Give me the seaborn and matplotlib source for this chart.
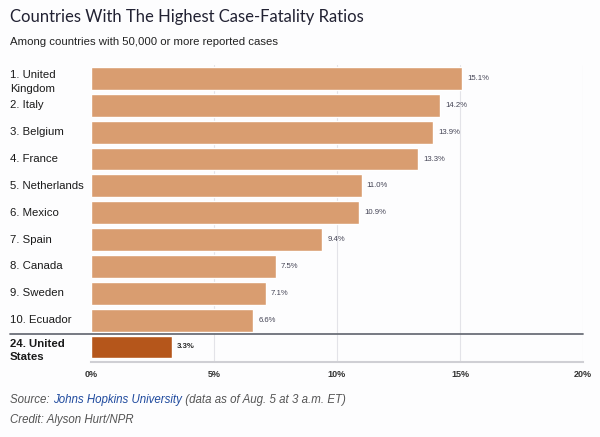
import matplotlib
matplotlib.use("Agg")
import matplotlib.pyplot as plt
import seaborn as sns
import pandas as pd

countries = ["1. United\nKingdom", "2. Italy", "3. Belgium", "4. France", "5. Netherlands",
             "6. Mexico", "7. Spain", "8. Canada", "9. Sweden", "10. Ecuador",
             "24. United\nStates"]
ratios = [15.1, 14.2, 13.9, 13.3, 11.0, 10.9, 9.4, 7.5, 7.1, 6.6, 3.3]
value_labels = ["15.1%", "14.2%", "13.9%", "13.3%", "11.0%", "10.9%", "9.4%", "7.5%",
                "7.1%", "6.6%", "3.3%"]
x_ticks = [0, 5, 10, 15, 20]

df = pd.DataFrame({"country": countries, "ratio": ratios})
light = "#D99D70"
dark = "#B5561B"
palette = [light] * 10 + [dark]

sns.set_theme(style="white")
plt.rcParams["font.family"] = ["Liberation Sans", "DejaVu Sans"]

fig = plt.figure(figsize=(6, 4.37), dpi=100)
fig.patch.set_facecolor("#FDFDFE")
ax = fig.add_axes([0.1517, 0.1723, 0.82, 0.6787])
ax.set_facecolor("#FDFDFE")

sns.barplot(data=df, x="ratio", y="country", hue="country", palette=palette,
            legend=False, width=0.85, saturation=1, ax=ax, zorder=3)

ax.set_xlim(0, 20)
ax.set_ylim(10.55, -0.5)
ax.set_xticks(x_ticks)
ax.set_xticklabels([f"{t}%" for t in x_ticks], fontsize=6.5, fontweight="bold", color="#333333")
ax.tick_params(axis="x", length=0, pad=6)
ax.set_yticks([])
ax.set_xlabel("")
ax.set_ylabel("")
for s in ["top", "right", "left"]:
    ax.spines[s].set_visible(False)
ax.spines["bottom"].set_color("#cfcfd4")
ax.spines["bottom"].set_linewidth(1.5)
for t in x_ticks[1:]:
    ax.axvline(t, color="#e3e3e8", linewidth=0.8, zorder=1)

# country labels and value labels
ytr = ax.get_yaxis_transform()
for i, (c, v, lab) in enumerate(zip(countries, ratios, value_labels)):
    bold = i == len(countries) - 1
    shift = 0.13 if "\n" in c else 0
    ax.text(-0.165, i + shift, c, transform=ytr, ha="left", va="center", fontsize=8.2,
            color="#1a1a1a", fontweight="bold" if bold else "normal", linespacing=1.4)
    ax.text(v + 0.2, i, lab, ha="left", va="center", fontsize=5.6,
            color="#2a2a2a" if bold else "#444455", fontweight="bold" if bold else "normal")

# separator above United States
ax.plot([-0.165, 1], [9.52, 9.52], transform=ytr, color="#6b6f78", linewidth=1.3,
        clip_on=False, zorder=4)

fig.text(10 / 600, 1 - 17 / 437, "Countries With The Highest Case-Fatality Ratios",
         fontsize=12, color="#222233", va="center", ha="left", family=["Lato", "DejaVu Sans"])
fig.text(10 / 600, 1 - 42 / 437, "Among countries with 50,000 or more reported cases",
         fontsize=8.2, color="#222222", va="center", ha="left")

# source line with link-coloured part
fig.canvas.draw()
renderer = fig.canvas.get_renderer()
x0 = 10 / 600
ysrc = 1 - 400 / 437
parts = [("Source: ", "#555555"), ("Johns Hopkins University", "#1F4A9E"),
         (" (data as of Aug. 5 at 3 a.m. ET)", "#555555")]
for txt, col in parts:
    t = fig.text(x0, ysrc, txt, fontsize=8.3, style="italic", color=col, va="center", ha="left")
    bb = t.get_window_extent(renderer)
    x0 += bb.width / fig.bbox.width
fig.text(10 / 600, 1 - 420 / 437, "Credit: Alyson Hurt/NPR", fontsize=8.3, style="italic",
         color="#555555", va="center", ha="left")

fig.savefig("out.png", dpi=100, facecolor=fig.get_facecolor())
